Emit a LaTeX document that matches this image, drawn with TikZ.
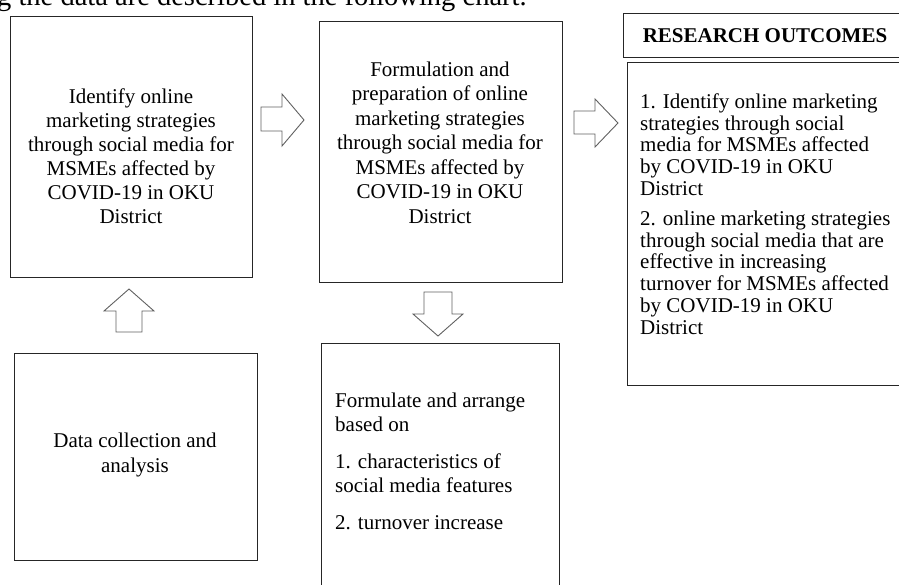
\documentclass[tikz,border=0pt]{standalone}
\usepackage{fontspec}
\setmainfont{Liberation Serif}
\begin{document}
\begin{tikzpicture}[x=1pt,y=-1pt,
  box/.style={draw=black!85, line width=1.4pt, anchor=north west, inner sep=0pt},
  blockarrow/.style={draw=black!62, line width=0.9pt, fill=white, line join=miter},
  txt/.style={inner sep=0pt, font=\fontsize{21}{21.2}\selectfont}]
\useasboundingbox (0,0) rectangle (899,584);
\clip (0,0) rectangle (899,584);

% cut-off sentence at top
\node[anchor=base west, inner sep=0pt, font=\fontsize{28.5}{30}\selectfont] (intro) at (-3,5)
  {g the data are described in the following chart.};

% boxes
\node[box, minimum width=242, minimum height=261] (b1) at (10,16) {};
\node[box, minimum width=243, minimum height=261] (b2) at (319,21) {};
\node[box, minimum width=243, minimum height=207] (bdata) at (14,353) {};
\node[box, minimum width=238, minimum height=257] (b3) at (321,343) {};
\node[box, minimum width=287, minimum height=44] (hdr) at (623,13) {};
\node[box, minimum width=283, minimum height=323] (body) at (627,62) {};

% texts
\node[txt, align=center, font=\fontsize{21}{24}\selectfont] (t1) at (131,156)
  {Identify online\\marketing strategies\\through social media for\\MSMEs affected by\\COVID-19 in OKU\\District};
\node[txt, align=center, font=\fontsize{21}{24.5}\selectfont] (t2) at (440,142.5)
  {Formulation and\\preparation of online\\marketing strategies\\through social media for\\MSMEs affected by\\COVID-19 in OKU\\District};
\node[txt, align=center, font=\fontsize{21}{25}\selectfont] (tdata) at (135,455)
  {Data collection and\\analysis};
\node[txt, align=left, anchor=west, font=\fontsize{21}{24}\selectfont] (t3) at (335,461)
  {Formulate and arrange\\based on\\[13pt]1. characteristics of\\social media features\\[13pt]2. turnover increase};
\node[txt, anchor=base, font=\fontsize{21}{21}\selectfont\bfseries] (thdr) at (765,42)
  {RESEARCH OUTCOMES};
\node[txt, align=left, anchor=west, font=\fontsize{21}{21.8}\selectfont] (tbody) at (640,214)
  {1. Identify online marketing\\strategies through social\\media for MSMEs affected\\by COVID-19 in OKU\\District\\[8pt]2. online marketing strategies\\through social media that are\\effective in increasing\\turnover for MSMEs affected\\by COVID-19 in OKU\\District};

% block arrows
\draw[blockarrow] (261,107) -- (282,107) -- (282,94) -- (304,120) -- (282,146) -- (282,131) -- (261,131) -- cycle;
\draw[blockarrow] (574,111) -- (595,111) -- (595,99) -- (618,123) -- (595,147) -- (595,134) -- (574,134) -- cycle;
\draw[blockarrow] (116,332) -- (116,311) -- (104,311) -- (129,289) -- (154,311) -- (142,311) -- (142,332) -- cycle;
\draw[blockarrow] (424,292) -- (452,292) -- (452,314) -- (463,314) -- (438,336) -- (413,314) -- (424,314) -- cycle;
\end{tikzpicture}
\end{document}
